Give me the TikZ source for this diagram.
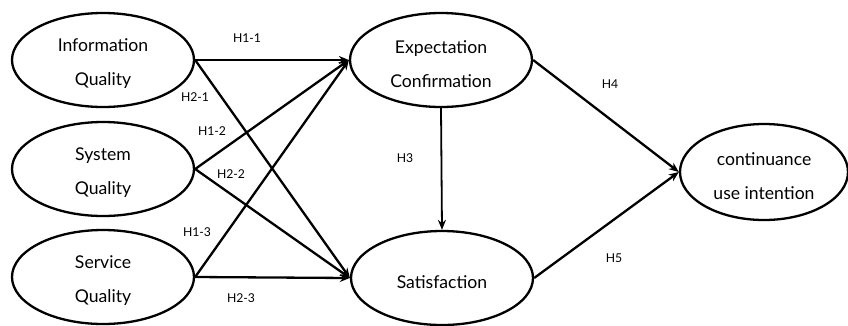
\documentclass[tikz,border=0pt]{standalone}
\usepackage{fontspec}
\setmainfont{Lato}
\usetikzlibrary{shapes.geometric,arrows.meta}
\begin{document}
\begin{tikzpicture}[x=1pt,y=-1pt,
  construct/.style={ellipse,draw,line width=2.3pt,minimum width=182pt,minimum height=94pt,inner sep=0pt},
  ctext/.style={align=center,font=\fontsize{17.6}{34}\selectfont,inner sep=0pt,yshift=-4pt},
  path/.style={line width=2.3pt,-{Stealth[length=10pt,width=8pt]}},
  hlabel/.style={font=\fontsize{12.2}{13}\selectfont,inner sep=1pt}]
\useasboundingbox (0,0) rectangle (848,325);
\node[construct,label={[ctext]center:{Information\\Quality}}] (iq) at (103,60) {};
\node[construct,label={[ctext]center:{System\\Quality}}] (sq) at (103,169) {};
\node[construct,label={[ctext]center:{Service\\Quality}}] (svq) at (103,277) {};
\node[construct,label={[ctext]center:{Expectation\\Confirmation}}] (ec) at (441,60) {};
\node[construct,label={[ctext]center:{Satisfaction}}] (sat) at (442,278) {};
\node[construct,minimum width=168pt,minimum height=96pt,label={[ctext]center:{continuance\\use intention}}] (cui) at (764,172) {};
\draw[path] (iq.east) -- (ec.west);
\draw[path] (iq.east) -- (sat.west);
\draw[path] (sq.east) -- (ec.west);
\draw[path] (sq.east) -- (sat.west);
\draw[path] (svq.east) -- (ec.west);
\draw[path] (svq.east) -- (sat.west);
\draw[path,line width=1.8pt] (ec.south) -- (sat.north);
\draw[path] (ec.east) -- (cui.west);
\draw[path] (sat.east) -- (cui.west);
\node[hlabel] (l11) at (247,38) {H1-1};
\node[hlabel] (l21) at (195,97) {H2-1};
\node[hlabel] (l12) at (212,131) {H1-2};
\node[hlabel] (l22) at (231,174) {H2-2};
\node[hlabel] (l13) at (197,232) {H1-3};
\node[hlabel] (l23) at (241,298) {H2-3};
\node[hlabel] (l3) at (405,158) {H3};
\node[hlabel] (l4) at (610,84) {H4};
\node[hlabel] (l5) at (614,258) {H5};
\end{tikzpicture}
\end{document}
